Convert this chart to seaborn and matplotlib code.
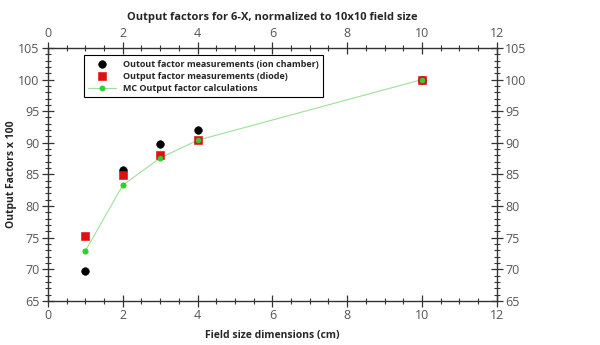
import matplotlib
matplotlib.use("Agg")
import matplotlib.pyplot as plt
import seaborn as sns
import pandas as pd
from matplotlib.ticker import MultipleLocator

field_size = [1, 2, 3, 4, 10]
ion_chamber = [69.7, 85.7, 89.8, 92.0, 100.0]
diode = [75.3, 84.9, 88.0, 90.4, 100.0]
mc_calc = [72.9, 83.3, 87.6, 90.4, 100.0]

sns.set_theme(style="white")
plt.rcParams['font.family'] = ['Open Sans', 'DejaVu Sans']

fig = plt.figure(figsize=(6.0, 3.45), dpi=100)
ax = fig.add_axes([0.08, 0.128, 0.748, 0.733])

df = pd.DataFrame({"x": field_size, "ion": ion_chamber, "diode": diode, "mc": mc_calc})

sns.lineplot(data=df, x="x", y="mc", ax=ax, color="#9be09b", lw=0.8, marker="o",
             markersize=3.5, markerfacecolor="#33cc33", markeredgecolor="#33cc33",
             label="MC Output factor calculations", zorder=2)
sns.scatterplot(data=df, x="x", y="ion", ax=ax, color="black", s=30, marker="o",
                edgecolor="black", label="Outout factor measurements (ion chamber)", zorder=3)
sns.scatterplot(data=df, x="x", y="diode", ax=ax, color="#dd1111", s=28, marker="s",
                edgecolor="#dd1111", label="Output factor measurements (diode)", zorder=3)
# redraw MC markers on top
ax.plot(df["x"], df["mc"], ls="none", marker="o", ms=3, color="#33cc33", zorder=4)

ax.set_xlim(0, 12)
ax.set_ylim(65, 105)
ax.xaxis.set_major_locator(MultipleLocator(2))
ax.xaxis.set_minor_locator(MultipleLocator(0.5))
ax.yaxis.set_major_locator(MultipleLocator(5))
ax.yaxis.set_minor_locator(MultipleLocator(1))

for s in ax.spines.values():
    s.set_color("#333333")
    s.set_linewidth(1.0)

ax.tick_params(axis="both", which="major", direction="inout", length=8, width=0.9,
               colors="#333333", labelcolor="#555555", labelsize=9, pad=2,
               top=True, right=True, labeltop=True, labelright=True, bottom=True, left=True)
ax.tick_params(axis="both", which="minor", direction="inout", length=5, width=0.8,
               colors="#333333", top=True, right=True, bottom=True, left=True)

ax.set_xlabel("Field size dimensions (cm)", fontsize=7.5, fontweight="bold")
ax.xaxis.set_label_coords(0.5, -0.115)
ax.xaxis.label.set_va("top")
ax.set_ylabel("Output Factors x 100", fontsize=7.5, fontweight="bold")
ax.yaxis.set_label_coords(-0.068, 0.5)
fig.text(0.454, 0.948, "Output factors for 6-X, normalized to 10x10 field size",
         fontsize=8, fontweight="bold", ha="center", va="center")

handles, labels = ax.get_legend_handles_labels()
order = [labels.index("Outout factor measurements (ion chamber)"),
         labels.index("Output factor measurements (diode)"),
         labels.index("MC Output factor calculations")]
leg = ax.legend([handles[i] for i in order], [labels[i] for i in order],
                loc="upper left", bbox_to_anchor=(0.07, 0.99), fontsize=6.5,
                frameon=True, fancybox=False, edgecolor="black", framealpha=1,
                handlelength=3, borderpad=0.5, labelspacing=0.35)
leg.get_frame().set_linewidth(0.8)
for t in leg.get_texts():
    t.set_fontweight("bold")

fig.savefig("out.png", dpi=100)
